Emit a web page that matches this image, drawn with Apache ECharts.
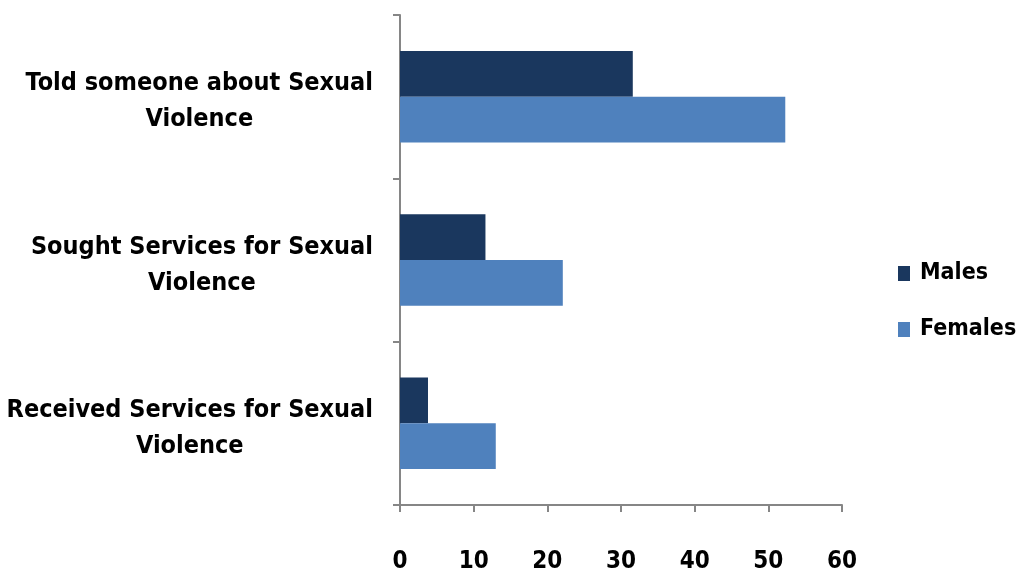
<!DOCTYPE html>
<html>
<head>
<meta charset="utf-8">
<script src="https://cdn.jsdelivr.net/npm/echarts@6/dist/echarts.min.js"></script>
<style>
  html, body { margin: 0; padding: 0; background: #fff; }
  #chart { width: 1024px; height: 572px; }
</style>
</head>
<body>
<div id="chart"></div>
<script>
var categories = [
    'Told someone about Sexual\nViolence',
    'Sought Services for Sexual\nViolence',
    'Received Services for Sexual\nViolence'
]
var males = [31.6, 11.6, 3.8]
var females = [52.3, 22.1, 13.0]
var xTicks = [0, 60, 10]   // min, max, interval

var font = '"Liberation Sans Narrow", "Arial Narrow", "DejaVu Sans Condensed", sans-serif'
var axisGrey = '#868686'

var echart = echarts.init(document.getElementById('chart'))
var option = {
    animation: false,
    backgroundColor: '#fff',
    grid: {
        left: 400,
        right: 182,
        top: 15,
        bottom: 67,
        outerBoundsMode: 'none'
    },
    legend: {
        orient: 'vertical',
        left: 898,
        top: 259,
        padding: 0,
        itemWidth: 12,
        itemHeight: 15,
        itemGap: 27,
        icon: 'rect',
        textStyle: {
            fontFamily: font,
            fontWeight: 'bold',
            fontSize: 23,
            lineHeight: 29,
            color: '#000',
            padding: [0, 0, 0, 5]
        },
        data: ['Males', 'Females']
    },
    xAxis: {
        type: 'value',
        min: xTicks[0],
        max: xTicks[1],
        interval: xTicks[2],
        axisLine: {
            show: true,
            lineStyle: { color: axisGrey, width: 2 }
        },
        axisTick: {
            show: true,
            length: 7,
            lineStyle: { color: axisGrey, width: 2 }
        },
        splitLine: { show: false },
        axisLabel: {
            margin: 45,
            color: '#000',
            fontFamily: font,
            fontWeight: 'bold',
            fontSize: 24
        }
    },
    yAxis: {
        type: 'category',
        inverse: true,
        data: categories,
        axisLine: {
            show: true,
            lineStyle: { color: axisGrey, width: 2 }
        },
        axisTick: {
            show: true,
            length: 7,
            lineStyle: { color: axisGrey, width: 2 }
        },
        axisLabel: {
            margin: 27,
            padding: [10, 0, 0, 0],
            formatter: function (v) {
                return v.split('\n').map(function (s) { return '{c|' + s + '}' }).join('\n')
            },
            rich: {
                c: {
                    align: 'center',
                    color: '#000',
                    fontFamily: font,
                    fontWeight: 'bold',
                    fontSize: 25,
                    lineHeight: 36
                }
            }
        }
    },
    series: [
        {
            name: 'Males',
            type: 'bar',
            barGap: 0,
            barCategoryGap: '44%',
            itemStyle: { color: '#1a375e' },
            data: males
        },
        {
            name: 'Females',
            type: 'bar',
            barGap: 0,
            barCategoryGap: '44%',
            itemStyle: { color: '#4f81bd' },
            data: females
        }
    ]
}
echart.setOption(option)
</script>
</body>
</html>
